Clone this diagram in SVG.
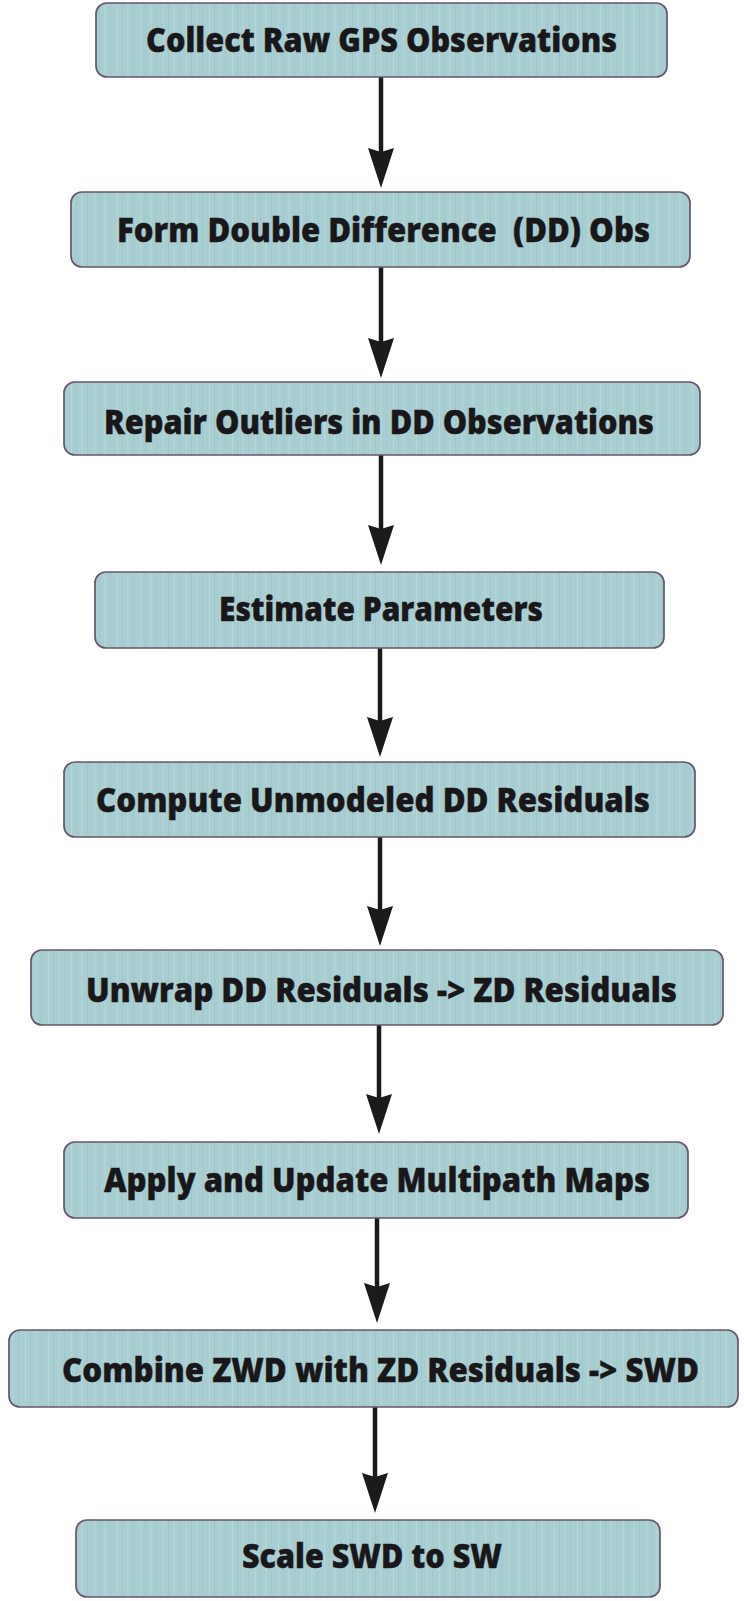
<svg xmlns="http://www.w3.org/2000/svg" width="744" height="1601" viewBox="0 0 744 1601">
  <defs>
    <pattern id="streaks" patternUnits="userSpaceOnUse" width="23" height="40">
      <rect width="23" height="40" fill="#a8ced1"/>
      <rect x="2" width="1" height="40" fill="#bcdadc" opacity="0.7"/>
      <rect x="7" width="1" height="40" fill="#98c2c6" opacity="0.6"/>
      <rect x="12" width="2" height="40" fill="#b4d6d8" opacity="0.6"/>
      <rect x="18" width="1" height="40" fill="#9cc5c8" opacity="0.6"/>
    </pattern>
    <marker id="ah" markerUnits="userSpaceOnUse" markerWidth="44" markerHeight="30" viewBox="0 -15 44 30" refX="20" refY="0" orient="auto">
      <path d="M0,-13 L4,0 L0,13 L40,0 Z" fill="#1c1a1c"/>
    </marker>
  </defs>
  <style>
    .box { fill: url(#streaks); stroke: #65566a; stroke-width: 1.7; }
    .lbl { font-family: "Open Sans", "Liberation Sans", sans-serif; font-weight: 800; font-size: 33px; fill: #1a171a; stroke: #1a171a; stroke-width: 0.4; }
    .conn { stroke: #1c1a1c; stroke-width: 4.5; fill: none; marker-end: url(#ah); }
  </style>
  <rect width="744" height="1601" fill="#ffffff"/>

  <g id="connectors">
    <line class="conn" x1="381" y1="77" x2="381" y2="168"/>
    <line class="conn" x1="381" y1="267" x2="381" y2="358"/>
    <line class="conn" x1="381" y1="455" x2="381" y2="545"/>
    <line class="conn" x1="380" y1="648" x2="380" y2="737"/>
    <line class="conn" x1="380" y1="837" x2="380" y2="926"/>
    <line class="conn" x1="379" y1="1025" x2="379" y2="1114"/>
    <line class="conn" x1="377" y1="1218" x2="377" y2="1303"/>
    <line class="conn" x1="375" y1="1407" x2="375" y2="1493"/>
  </g>

  <g id="node1">
    <rect class="box" x="96" y="3" width="571" height="74" rx="11"/>
    <text class="lbl" x="146" y="52" textLength="471" lengthAdjust="spacingAndGlyphs">Collect Raw GPS Observations</text>
  </g>
  <g id="node2">
    <rect class="box" x="71" y="192" width="619" height="75" rx="11"/>
    <text class="lbl" x="117" y="242" textLength="533" lengthAdjust="spacingAndGlyphs" xml:space="preserve">Form Double Difference  (DD) Obs</text>
  </g>
  <g id="node3">
    <rect class="box" x="64" y="382" width="636" height="73" rx="11"/>
    <text class="lbl" x="104" y="434" textLength="550" lengthAdjust="spacingAndGlyphs">Repair Outliers in DD Observations</text>
  </g>
  <g id="node4">
    <rect class="box" x="95" y="572" width="569" height="76" rx="11"/>
    <text class="lbl" x="219" y="621" textLength="324" lengthAdjust="spacingAndGlyphs">Estimate Parameters</text>
  </g>
  <g id="node5">
    <rect class="box" x="64" y="762" width="631" height="75" rx="11"/>
    <text class="lbl" x="96" y="812" textLength="554" lengthAdjust="spacingAndGlyphs">Compute Unmodeled DD Residuals</text>
  </g>
  <g id="node6">
    <rect class="box" x="31" y="950" width="692" height="75" rx="11"/>
    <text class="lbl" x="86" y="1002" textLength="591" lengthAdjust="spacingAndGlyphs">Unwrap DD Residuals -&gt; ZD Residuals</text>
  </g>
  <g id="node7">
    <rect class="box" x="64" y="1142" width="624" height="76" rx="11"/>
    <text class="lbl" x="104" y="1192" textLength="546" lengthAdjust="spacingAndGlyphs">Apply and Update Multipath Maps</text>
  </g>
  <g id="node8">
    <rect class="box" x="9" y="1330" width="729" height="77" rx="11"/>
    <text class="lbl" x="62" y="1382" textLength="637" lengthAdjust="spacingAndGlyphs">Combine ZWD with ZD Residuals -&gt; SWD</text>
  </g>
  <g id="node9">
    <rect class="box" x="76" y="1520" width="584" height="77" rx="11"/>
    <text class="lbl" x="242" y="1568" textLength="260" lengthAdjust="spacingAndGlyphs">Scale SWD to SW</text>
  </g>
</svg>
